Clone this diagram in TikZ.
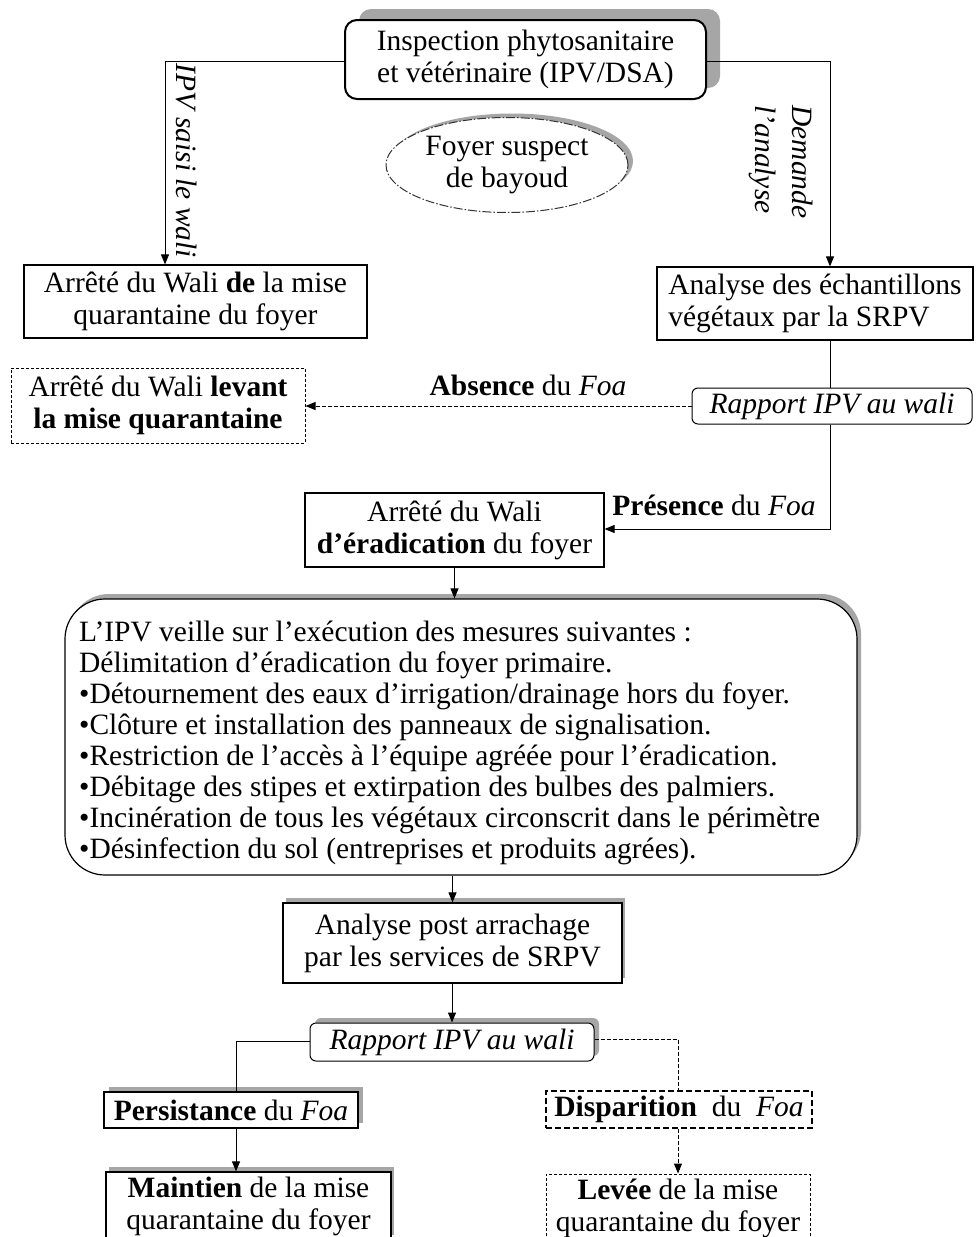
\documentclass[tikz,border=0pt]{standalone}
\usepackage{fontspec}
\setmainfont{Liberation Serif}
\usetikzlibrary{arrows.meta,shapes.geometric,shadows}
\begin{document}
\begin{tikzpicture}[x=1pt,y=-1pt,
  every node/.style={font=\fontsize{29.5}{32}\selectfont, inner sep=0pt, align=center},
  box/.style={draw, line width=1.2pt, rectangle, fill=white},
  rbox/.style={draw, line width=1.2pt, rectangle, rounded corners=7pt, fill=white},
  dbox/.style={draw, line width=1pt, rectangle, dash pattern=on 3pt off 2pt, fill=white},
  shd/.style={drop shadow={shadow xshift=#1, shadow yshift=5pt, fill=black!35, opacity=1}},
  conn/.style={line width=1pt},
  arr/.style={line width=1pt, -{Triangle[length=10pt,width=8pt]}},
  darr/.style={line width=1pt, dash pattern=on 4pt off 2pt, -{Triangle[length=10pt,width=8pt]}},
  dconn/.style={line width=1pt, dash pattern=on 4pt off 2pt},
  lbl/.style={fill=none}
]
\useasboundingbox (0,0) rectangle (975,1237);
\clip (0,0) rectangle (975,1237);
\fill[white] (0,0) rectangle (975,1237);

% top box
\node[draw, line width=2pt, rounded corners=12pt, fill=white, minimum width=361pt, minimum height=79pt,
  drop shadow={shadow xshift=14pt, shadow yshift=11pt, fill=black!35, opacity=1, rounded corners=12pt}] (insp) at (525.5,59.5)
  {Inspection phytosanitaire\\et vétérinaire (IPV/DSA)};

% ellipse
\node[ellipse, draw=black!80, line width=1pt, dash pattern=on 9pt off 2pt on 1.5pt off 2pt, fill=white,
  minimum width=242pt, minimum height=95pt,
  drop shadow={shadow xshift=5pt, shadow yshift=4pt, fill=black!35, opacity=1}] (foyer) at (507,165)
  {Foyer suspect\\de bayoud};

% first level boxes
\node[box, minimum width=343pt, minimum height=73pt] (a1) at (195.5,301.5)
  {Arrêté du Wali \textbf{de} la mise\\quarantaine du foyer};
\node[box, minimum width=316pt, minimum height=73pt, align=left] (a2) at (815,303.5)
  {Analyse des échantillons\\végétaux par la SRPV};

\coordinate (lc) at (165,61);
\coordinate (rc) at (830,61);
\draw[arr] (insp.west |- lc) -- (lc) -- (lc |- a1.north);
\draw[arr] (insp.east |- rc) -- (rc) -- (rc |- a2.north);

\node[lbl, rotate=-90, font=\fontsize{29.5}{32}\selectfont\itshape] (lab1) at (187,161) {IPV saisi le wali};
\node[lbl, rotate=-90, align=left, font=\fontsize{29.5}{37}\selectfont\itshape] (lab2) at (781,162) {Demande\\l’analyse};

% rapport 1
\node[rbox, line width=1pt, rounded corners=6pt, minimum width=280pt, minimum height=36pt, font=\fontsize{29.5}{32}\selectfont\itshape] (rap1) at (832,406)
  {Rapport IPV au wali};
\node[dbox, minimum width=294pt, minimum height=75pt] (lev1) at (158,405.5)
  {Arrêté du Wali \textbf{levant}\\\textbf{la mise quarantaine}};
\node[box, minimum width=299pt, minimum height=74pt] (erad) at (454.5,530)
  {Arrêté du Wali\\\textbf{d’éradication} du foyer};

\draw[conn] (a2.south -| rc) -- (rap1.north -| rc);
\coordinate (pc) at (830,529);
\draw[arr] (rap1.south -| rc) -- (pc) -- (erad.east |- pc);
\draw[darr] (rap1.west) -- (lev1.east |- rap1.west);
\node[lbl] (absl) at (528,385) {\textbf{Absence} du \textit{Foa}};
\node[lbl] (presl) at (714,505) {\textbf{Présence} du \textit{Foa}};

% big box
\node[draw, line width=1.2pt, rounded corners=40pt, fill=white, minimum width=792pt, minimum height=276pt,
  drop shadow={shadow xshift=4pt, shadow yshift=5pt, fill=black!35, opacity=1, rounded corners=40pt}] (big) at (461,737) {};
\node[anchor=west, align=left, font=\fontsize{29.5}{31}\selectfont] (bigtxt) at (79,743)
  {L’IPV veille sur l’exécution des mesures suivantes :\\
   Délimitation d’éradication du foyer primaire.\\
   •Détournement des eaux d’irrigation/drainage hors du foyer.\\
   •Clôture et installation des panneaux de signalisation.\\
   •Restriction de l’accès à l’équipe agréée pour l’éradication.\\
   •Débitage des stipes et extirpation des bulbes des palmiers.\\
   •Incinération de tous les végétaux circonscrit dans le périmètre\\
   •Désinfection du sol (entreprises et produits agrées).};
\draw[arr] (erad.south) -- (erad.south |- big.north);

% post analysis
\node[box, minimum width=339pt, minimum height=80pt,
  drop shadow={shadow xshift=3pt, shadow yshift=5pt, fill=black!35, opacity=1}] (post) at (452.5,943)
  {Analyse post arrachage\\par les services de SRPV};
\draw[arr] (big.south -| post.north) -- (post.north);

\node[rbox, line width=1pt, rounded corners=6pt, minimum width=284pt, minimum height=38pt, font=\fontsize{29.5}{32}\selectfont\itshape,
  drop shadow={shadow xshift=5pt, shadow yshift=5pt, fill=black!35, opacity=1, rounded corners=6pt}] (rap2) at (452,1042)
  {Rapport IPV au wali};
\draw[arr] (post.south -| rap2.north) -- (rap2.north);

\node[box, minimum width=254pt, minimum height=36pt,
  drop shadow={shadow xshift=5pt, shadow yshift=5pt, fill=black!35, opacity=1}] (pers) at (231,1110)
  {\textbf{Persistance} du \textit{Foa}};
\node[box, minimum width=285pt, minimum height=68pt,
  drop shadow={shadow xshift=3pt, shadow yshift=5pt, fill=black!35, opacity=1}] (maint) at (248.5,1206)
  {\textbf{Maintien} de la mise\\quarantaine du foyer};
\node[draw, line width=2pt, dash pattern=on 6pt off 3pt, fill=white, minimum width=266pt, minimum height=37pt] (disp) at (679,1109.5)
  {\textbf{Disparition}\ \ du\ \ \textit{Foa}};
\node[dbox, minimum width=264pt, minimum height=68pt] (levee) at (678,1208)
  {\textbf{Levée} de la mise\\quarantaine du foyer};

\coordinate (pl) at (236,1041);
\coordinate (dr) at (678,1039);
\draw[conn] (rap2.west |- pl) -- (pl) -- (pl |- pers.north);
\draw[arr] (pers.south -| pl) -- (maint.north -| pl);
\draw[dconn] (rap2.east |- dr) -- (dr) -- (dr |- disp.north);
\draw[darr] (disp.south -| dr) -- (levee.north -| dr);
\end{tikzpicture}
\end{document}
